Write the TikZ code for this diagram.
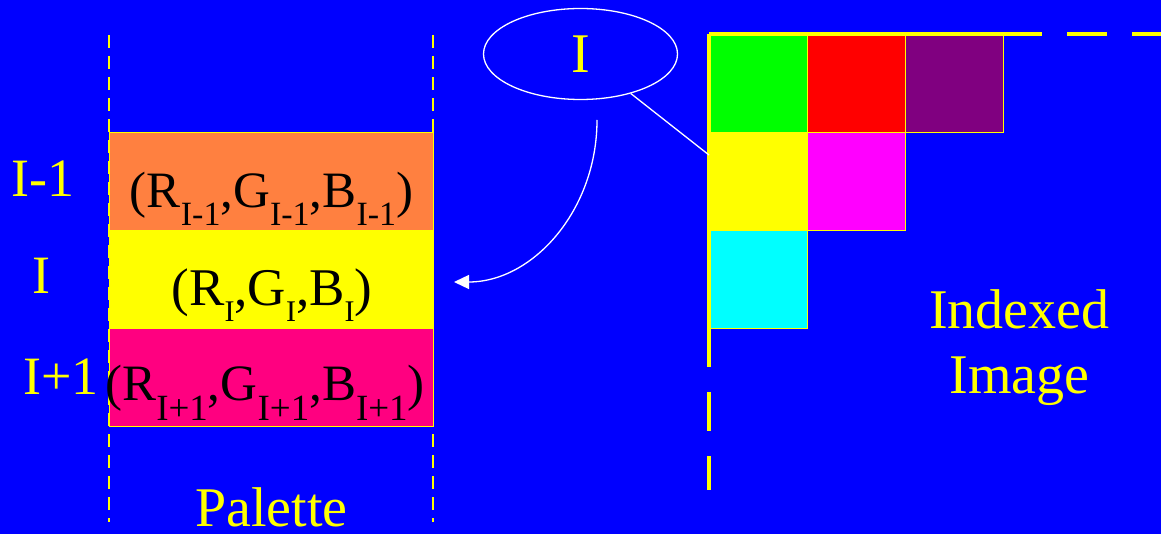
\documentclass[tikz,border=0pt]{standalone}
\usepackage{fontspec}
\setmainfont{Liberation Serif}
\usetikzlibrary{shapes.geometric,arrows.meta}
\definecolor{bgblue}{HTML}{0000FF}
\definecolor{palorange}{HTML}{FF8040}
\definecolor{palpink}{HTML}{FF0080}
\definecolor{cpurple}{HTML}{800080}
\definecolor{cgreen}{HTML}{00FF00}
\definecolor{cred}{HTML}{FF0000}
\definecolor{cmagenta}{HTML}{FF00FF}
\definecolor{ccyan}{HTML}{00FFFF}
\definecolor{cyellow}{HTML}{FFFF00}
\newcommand\tsb[3]{\raisebox{-#1pt}{\fontsize{#2}{#2}\selectfont #3}}
\tikzset{
  lbl/.style={text=cyellow, font=\fontsize{56}{60}\selectfont, anchor=base, inner sep=0pt},
  idx/.style={text=cyellow, font=\fontsize{54}{60}\selectfont, anchor=base, inner sep=0pt},
  tuple/.style={text=black, anchor=base, inner sep=0pt},
  palrow/.style={draw=cyellow, line width=1.3pt, minimum width=324pt, minimum height=98pt, inner sep=0pt, anchor=north west},
  cell/.style={draw=cyellow, line width=1.3pt, minimum width=98pt, minimum height=98pt, inner sep=0pt, anchor=north west},
  thindash/.style={draw=cyellow, line width=1.3pt, dash pattern=on 12.7pt off 8.3pt},
  thickline/.style={draw=cyellow, line width=4pt},
  wline/.style={draw=white, line width=1.3pt}
}
\begin{document}
\begin{tikzpicture}[x=1pt,y=-1pt]
\fill[bgblue] (0,0) rectangle (1161,534);
\useasboundingbox (0,0) rectangle (1161,534);

% palette guide lines
\coordinate (pl1) at (109,35);
\coordinate (pl2) at (109,522);
\coordinate (pr1) at (433,35);
\coordinate (pr2) at (433,522);
\draw[thindash] (pl1) -- (pl2);
\draw[thindash] (pr1) -- (pr2);

% palette rows
\node[palrow, fill=palorange] (r1) at (109,132) {};
\node[palrow, fill=cyellow] (r2) at (109,230) {};
\node[palrow, fill=palpink] (r3) at (109,328) {};

\node[tuple, font=\fontsize{51}{60}\selectfont] (t1) at (271.5,208)
  {(R\tsb{18}{34}{I-1},G\tsb{18}{34}{I-1},B\tsb{18}{34}{I-1})};
\node[tuple, font=\fontsize{53}{60}\selectfont] (t2) at (272,306)
  {(R\tsb{16}{30}{I},G\tsb{16}{30}{I},B\tsb{16}{30}{I})};
\node[tuple, font=\fontsize{51}{60}\selectfont] (t3) at (265,400)
  {(R\tsb{20}{37}{I+1},G\tsb{20}{37}{I+1},B\tsb{20}{37}{I+1})};

% index labels
\node[idx] (l1) at (43,197) {I-1};
\node[idx] (l2) at (41,294) {I};
\node[idx] (l3) at (61,394) {I+1};
\node[lbl] (pal) at (271.5,526) {Palette};

% image cells
\node[cell, fill=cgreen] (c11) at (709,34) {};
\node[cell, fill=cred] (c12) at (807,34) {};
\node[cell, fill=cpurple] (c13) at (905,34) {};
\node[cell, fill=cyellow] (c21) at (709,132) {};
\node[cell, fill=cmagenta] (c22) at (807,132) {};
\node[cell, fill=ccyan] (c31) at (709,230) {};

% image axes (thick dashed)
\coordinate (o) at (709,34);
\coordinate (hx) at (1165,34);
\coordinate (vy) at (709,490);
\draw[thickline, dash pattern=on 333pt off 25pt on 40pt off 25pt on 100pt] (o) -- (hx);
\draw[thickline, dash pattern=on 333pt off 25pt on 39pt off 25pt on 100pt] (o) -- (vy);

\node[lbl] (ix1) at (1019.5,328) {Indexed};
\node[lbl] (ix2) at (1019.5,393) {Image};

% index ellipse
\node[ellipse, draw=white, line width=1.3pt, minimum width=194pt, minimum height=91pt, inner sep=0pt,
      text=cyellow, font=\fontsize{56}{60}\selectfont] (ell) at (580.5,54) {I};

\coordinate (pix) at (709,155);
\draw[wline] (ell) -- (pix);

\coordinate (as) at (597,120);
\coordinate (ae) at (454,282);
\draw[wline, -{Triangle[length=15pt,width=14pt]}] (as) .. controls (597,210) and (533,282) .. (ae);
\end{tikzpicture}
\end{document}
